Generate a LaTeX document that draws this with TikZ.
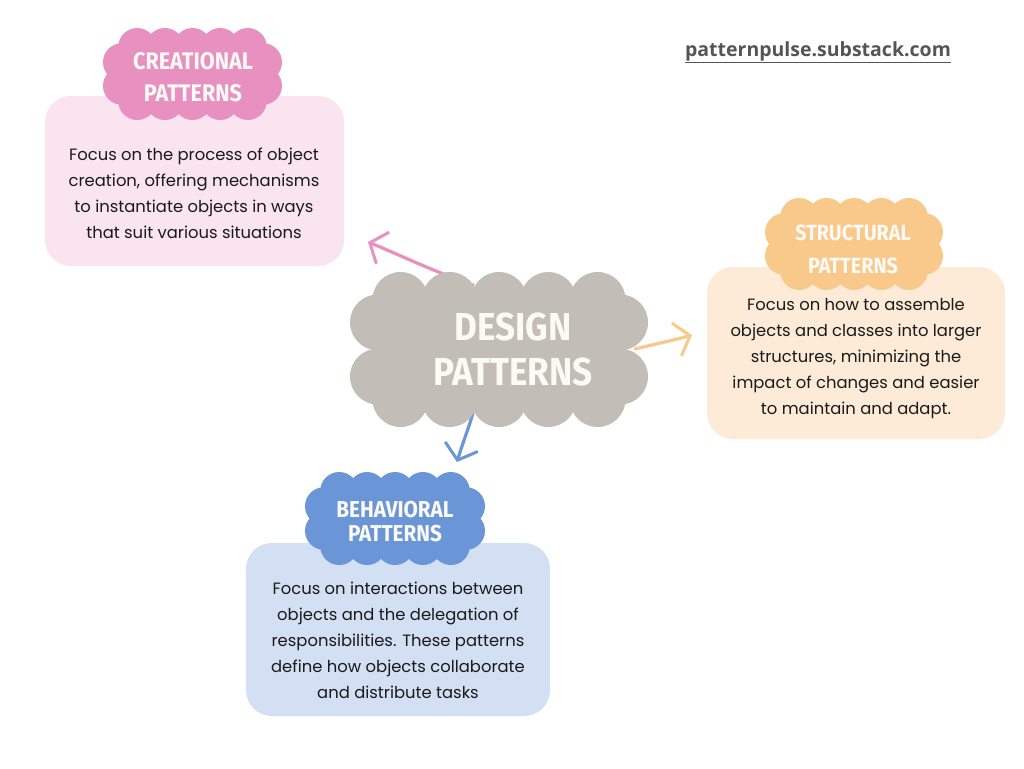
\documentclass[tikz,border=0pt]{standalone}
\usepackage{fontspec}
\setmainfont{Poppins}
\newfontfamily\headfont[FakeStretch=0.9]{Fira Sans}
\newfontfamily\urlfont{Open Sans}
\usetikzlibrary{arrows.meta}
\definecolor{pinkbox}{HTML}{F9E4EF}
\definecolor{pinkcloud}{HTML}{E890BF}
\definecolor{peachbox}{HTML}{FDEBD8}
\definecolor{orangecloud}{HTML}{F8C98B}
\definecolor{bluebox}{HTML}{D3DFF3}
\definecolor{bluecloud}{HTML}{6A96D8}
\definecolor{graycloud}{HTML}{C3BDB8}
\definecolor{headtext}{HTML}{FBFAF5}
\definecolor{urlgray}{HTML}{555555}
\definecolor{bodytext}{HTML}{1A1A1A}
\newcommand\cloudshape[8]{%
  \pgfmathsetmacro\cla{#1+#5}\pgfmathsetmacro\clb{#2+#5}%
  \pgfmathsetmacro\clc{#3-#5}\pgfmathsetmacro\cld{#4-#5}%
  \fill[#8] (\cla,\clb) rectangle (\clc,\cld);
  \pgfmathsetmacro\clxs{#1+1.8*#5}\pgfmathsetmacro\clxe{#3-1.8*#5}%
  \pgfmathsetmacro\clys{#2+1.8*#5}\pgfmathsetmacro\clye{#4-1.8*#5}%
  \foreach \k in {1,...,#6}{%
    \pgfmathsetmacro\cx{\clxs+(\k-1)*(\clxe-\clxs)/(#6-1)}%
    \fill[#8] (\cx,\clb) circle[radius=#5pt];
    \fill[#8] (\cx,\cld) circle[radius=#5pt];
  }
  \foreach \k in {1,...,#7}{%
    \pgfmathsetmacro\cy{\clys+(\k-1)*(\clye-\clys)/(#7-1)}%
    \fill[#8] (\cla,\cy) circle[radius=#5pt];
    \fill[#8] (\clc,\cy) circle[radius=#5pt];
  }
}
\tikzset{
  infobox/.style={rounded corners=26pt, inner sep=0pt},
  bodytxt/.style={align=center, text=bodytext, font=\fontsize{16.4}{26}\selectfont, inner sep=0pt},
  headsmall/.style={align=center, text=headtext, inner sep=0pt},
  arrowline/.style={line width=3.2pt, line cap=round, line join=round,
    -{Straight Barb[length=14pt, width=34pt, line width=3pt]}},
}
\begin{document}
\begin{tikzpicture}[x=1pt,y=-1pt]
\useasboundingbox[fill=white] (0,0) rectangle (1024,768);
% URL
\node[text=urlgray, font=\urlfont\bfseries\fontsize{19.5}{22}\selectfont, inner sep=0pt] (url) at (818,52) {\underline{patternpulse.substack.com}};
% boxes
\node[infobox, fill=pinkbox, minimum width=299pt, minimum height=170pt] (cb) at (194.5,181) {};
\node[infobox, fill=peachbox, minimum width=298pt, minimum height=172pt] (sb) at (856,353) {};
\node[infobox, fill=bluebox, minimum width=304pt, minimum height=173pt] (bb) at (398,629.5) {};
% body texts
\node[bodytxt] (ctext) at (194,193) {Focus on the process of object\\creation, offering mechanisms\\to instantiate objects in ways\\that suit various situations};
\node[bodytxt] (stext) at (856,359) {Focus on how to assemble\\objects and classes into larger\\structures, minimizing the\\impact of changes and easier\\to maintain and adapt.};
\node[bodytxt] (btext) at (398,640) {Focus on interactions between\\objects and the delegation of\\responsibilities. These patterns\\define how objects collaborate\\and distribute tasks};
% small clouds
\cloudshape{103}{28}{282}{120}{19}{5}{2}{pinkcloud}
\cloudshape{765}{198}{943}{290}{19}{5}{2}{orangecloud}
\cloudshape{305}{472}{485}{565}{19}{5}{2}{bluecloud}
\node[headsmall, font=\headfont\bfseries\fontsize{24}{32}\selectfont] (ct) at (193,77) {CREATIONAL\\PATTERNS};
\node[headsmall, font=\headfont\bfseries\fontsize{22}{33}\selectfont] (st) at (853,249) {STRUCTURAL\\PATTERNS};
\node[headsmall, font=\headfont\bfseries\fontsize{23}{24}\selectfont] (bt) at (395,522) {BEHAVIORAL\\PATTERNS};
% arrows
\coordinate (pa0) at (473,285); \coordinate (pa1) at (368,242);
\coordinate (oa0) at (635,349); \coordinate (oa1) at (692,335);
\coordinate (ba0) at (473,413); \coordinate (ba1) at (457,462);
\draw[arrowline, draw=pinkcloud] (pa0) .. controls (430,270) and (400,255) .. (pa1);
\draw[arrowline, draw=orangecloud] (oa0) .. controls (655,344) and (675,340) .. (oa1);
\draw[arrowline, draw=bluecloud] (ba0) .. controls (468,430) and (462,445) .. (ba1);
% design cloud
\cloudshape{350}{272}{648}{427}{28}{5}{2}{graycloud}
\node[headsmall, font=\headfont\bfseries\fontsize{39}{45}\selectfont] (dt) at (513,349) {DESIGN\\PATTERNS};
\end{tikzpicture}
\end{document}
